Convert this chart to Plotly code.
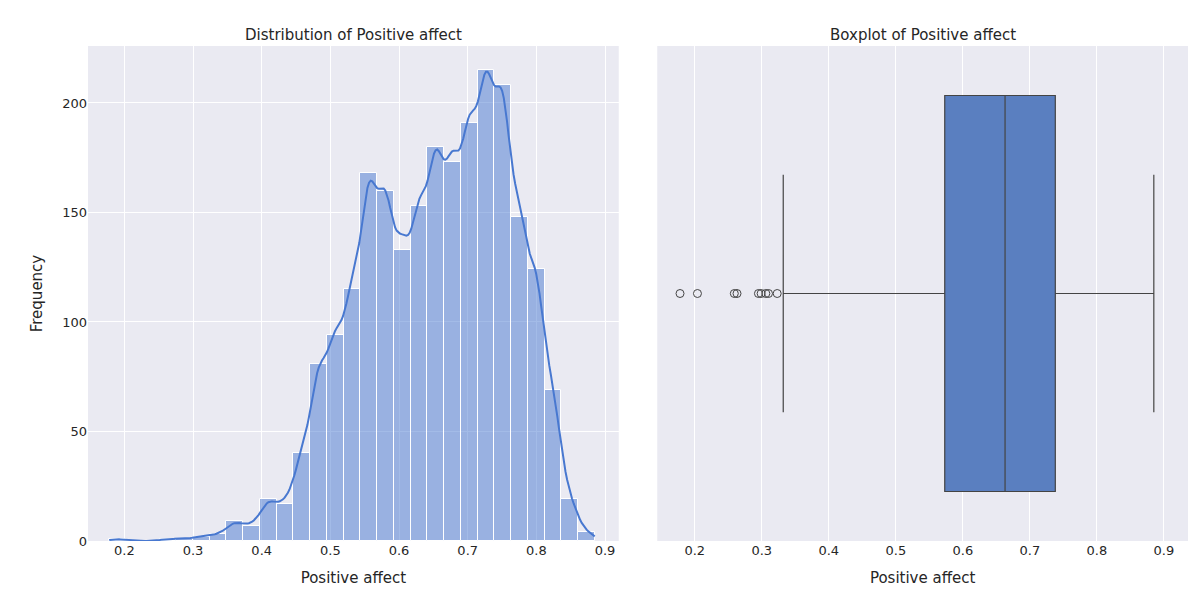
import numpy as np
import plotly.graph_objects as go
from plotly.subplots import make_subplots

# histogram of Positive affect (29 bins)
bin_start = 0.178
bin_width = 0.02438
counts = [1, 0, 0, 1, 1, 2, 3, 9, 7, 19, 17, 40, 81, 94, 115, 168, 160, 133,
          153, 180, 173, 191, 215, 208, 148, 124, 69, 19, 4]

# boxplot summary
q1, median, q3 = 0.573, 0.663, 0.738
low_fence, high_fence = 0.332, 0.885
outliers = [0.178, 0.204, 0.259, 0.263, 0.295, 0.299, 0.306, 0.31, 0.323]

centers = [bin_start + bin_width * (i + 0.5) for i in range(len(counts))]

# kde from the binned counts, scaled to counts
c = np.array(centers)
w = np.array(counts, dtype=float)
n = w.sum()
mean = (c * w).sum() / n
sd = np.sqrt(((c - mean) ** 2 * w).sum() / n)
bw = 0.55 * sd * n ** (-0.2)
xs = np.linspace(bin_start, bin_start + bin_width * len(counts), 300)
dens = (w[None, :] * np.exp(-0.5 * ((xs[:, None] - c[None, :]) / bw) ** 2)).sum(1)
dens = dens / (n * bw * np.sqrt(2 * np.pi)) * n * bin_width

fig = make_subplots(rows=1, cols=2, horizontal_spacing=0.035,
                    subplot_titles=("Distribution of Positive affect", "Boxplot of Positive affect"))

fig.add_trace(go.Bar(x=centers, y=counts, width=bin_width,
                     marker=dict(color="rgba(72,120,208,0.5)", line=dict(color="white", width=1)),
                     showlegend=False), row=1, col=1)
fig.add_trace(go.Scatter(x=xs, y=dens, mode="lines", line=dict(color="#4878d0", width=2),
                         showlegend=False), row=1, col=1)

fig.add_trace(go.Box(q1=[q1], median=[median], q3=[q3], lowerfence=[low_fence],
                     upperfence=[high_fence], y=[0], orientation="h",
                     fillcolor="#5a7fc0", line=dict(color="#444", width=1.2),
                     whiskerwidth=0.6, width=0.8, boxpoints=False, showlegend=False), row=1, col=2)
fig.add_trace(go.Scatter(x=outliers, y=[0] * len(outliers), mode="markers",
                         marker=dict(symbol="circle-open", size=8, color="#444", line=dict(width=1)),
                         showlegend=False), row=1, col=2)

ax = dict(gridcolor="white", showline=False, zeroline=False, tickfont=dict(size=13, color="#262626"),
          title_font=dict(size=15, color="#262626"), ticks="")
fig.update_xaxes(ax, range=[0.147, 0.92], dtick=0.1, title_text="Positive affect", row=1, col=1)
fig.update_xaxes(ax, range=[0.144, 0.936], dtick=0.1, title_text="Positive affect", row=1, col=2)
fig.update_yaxes(ax, range=[0, 226], dtick=50, title_text="Frequency", row=1, col=1)
fig.update_yaxes(range=[-0.5, 0.5], showticklabels=False, showgrid=False, zeroline=False, row=1, col=2)
fig.update_annotations(font=dict(size=15, color="#262626"))

fig.update_layout(width=1200, height=600, plot_bgcolor="#eaeaf2", paper_bgcolor="white",
                  font=dict(family="DejaVu Sans"), bargap=0,
                  margin=dict(l=80, r=20, t=38, b=67))
fig.write_html("out.html")
